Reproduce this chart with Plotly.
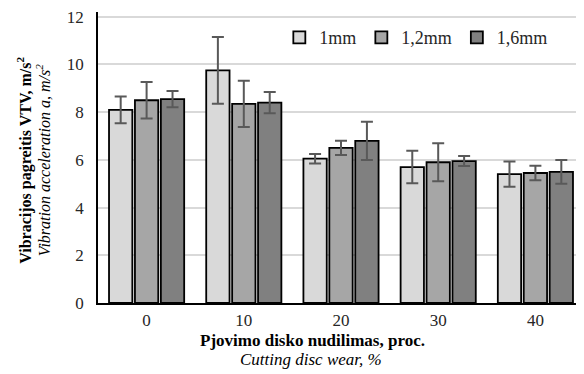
import plotly.graph_objects as go

categories = ["0", "10", "20", "30", "40"]
series_names = ["1mm", "1,2mm", "1,6mm"]
values_1mm = [8.1, 9.75, 6.05, 5.7, 5.4]
values_12mm = [8.5, 8.35, 6.5, 5.9, 5.45]
values_16mm = [8.55, 8.4, 6.8, 5.95, 5.5]
err_1mm = [0.56, 1.4, 0.2, 0.68, 0.53]
err_12mm = [0.77, 0.97, 0.3, 0.8, 0.3]
err_16mm = [0.34, 0.45, 0.8, 0.21, 0.5]
y_ticks = [0, 2, 4, 6, 8, 10, 12]

colors = ["#d9d9d9", "#a6a6a6", "#808080"]
FONT = "Liberation Serif"
TXT = "#262626"

fig = go.Figure()
for name, vals, errs, col in zip(series_names,
                                 [values_1mm, values_12mm, values_16mm],
                                 [err_1mm, err_12mm, err_16mm], colors):
    fig.add_trace(go.Bar(
        x=categories, y=vals, name=name,
        marker=dict(color=col, line=dict(color="#000000", width=1.8)),
        error_y=dict(type="data", array=errs, visible=True,
                     color="#595959", thickness=2, width=6),
    ))

# page has an 8px body margin, so the figure is sized/placed to compensate
fig.update_layout(
    width=576, height=366,
    margin=dict(l=90, r=0, t=4, b=71),
    paper_bgcolor="white", plot_bgcolor="white",
    barmode="group", bargap=0.2, bargroupgap=0.1,
    font=dict(family=FONT, size=17, color=TXT),
    showlegend=True,
    legend=dict(orientation="h", x=0.655, y=0.912, xanchor="center", yanchor="middle",
                font=dict(family=FONT, size=18, color=TXT),
                itemwidth=30, bgcolor="rgba(0,0,0,0)"),
    xaxis=dict(showline=True, linecolor="#000000", linewidth=1.5,
               ticks="", tickfont=dict(family=FONT, size=17, color=TXT),
               ticklabelstandoff=1),
    yaxis=dict(range=[0, 12.2], tickvals=y_ticks, showgrid=True,
               gridcolor="#d9d9d9", gridwidth=1.5, zeroline=False,
               showline=True, linecolor="#000000", linewidth=1.5,
               ticks="", tickfont=dict(family=FONT, size=17, color=TXT),
               ticklabelstandoff=9, ticklabeloverflow="allow"),
)

fig.add_annotation(xref="paper", yref="paper", x=-0.151, y=0.491,
                   text="<b>Vibracijos pagreitis VTV, m/s<sup>2</sup></b>",
                   textangle=-90, showarrow=False, xanchor="center", yanchor="middle",
                   font=dict(family=FONT, size=16, color="#000000"))
fig.add_annotation(xref="paper", yref="paper", x=-0.113, y=0.491,
                   text="<i>Vibration acceleration a, m/s<sup>2</sup></i>",
                   textangle=-90, showarrow=False, xanchor="center", yanchor="middle",
                   font=dict(family=FONT, size=16, color="#000000"))
fig.add_annotation(xref="paper", yref="paper", x=0.442, y=-0.129,
                   text="<b>Pjovimo disko nudilimas, proc.</b>",
                   showarrow=False, xanchor="center", yanchor="middle",
                   font=dict(family=FONT, size=17, color="#000000"))
fig.add_annotation(xref="paper", yref="paper", x=0.438, y=-0.194,
                   text="<i>Cutting disc wear, %</i>",
                   showarrow=False, xanchor="center", yanchor="middle",
                   font=dict(family=FONT, size=17, color="#000000"))

fig.write_html("out.html")
